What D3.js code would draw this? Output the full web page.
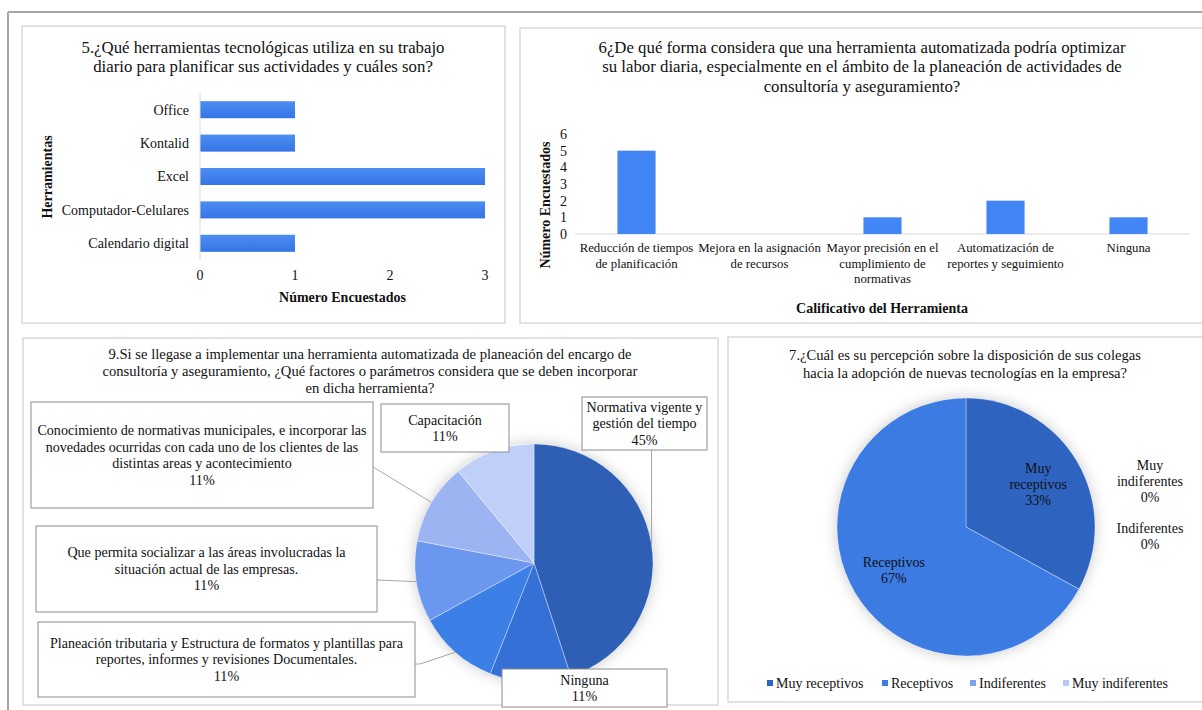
<!DOCTYPE html>
<html>
<head>
<meta charset="utf-8">
<script src="https://cdn.jsdelivr.net/npm/d3@7"></script>
<style>
  body { margin: 0; background: #fff; }
</style>
</head>
<body>
<svg id="chart" width="1202" height="710" font-family="'Liberation Serif', 'DejaVu Serif', serif"></svg>
<script>
// --- data ---
var herramientas = ["Office", "Kontalid", "Excel", "Computador-Celulares", "Calendario digital"];
var herramientasVal = [1, 1, 3, 3, 1];
var herramientasTicks = [0, 1, 2, 3];

var formas = [["Reducción de tiempos", "de planificación"], ["Mejora en la asignación", "de recursos"],
  ["Mayor precisión en el", "cumplimiento de", "normativas"], ["Automatización de", "reportes y seguimiento"], ["Ninguna"]];
var formasVal = [5, 0, 1, 2, 1];
var formasTicks = [0, 1, 2, 3, 4, 5, 6];

var factores = [["Normativa vigente y", "gestión del tiempo"], ["Ninguna"],
  ["Planeación tributaria y Estructura de formatos y plantillas para", "reportes, informes y revisiones Documentales."],
  ["Que permita socializar a las áreas involucradas la", "situación actual de las empresas."],
  ["Conocimiento de normativas municipales, e incorporar las", "novedades ocurridas con cada uno de los clientes de las", "distintas areas y acontecimiento"],
  ["Capacitación"]];
var factoresVal = [45, 11, 11, 11, 11, 11];

var percepcion = ["Muy receptivos", "Receptivos", "Indiferentes", "Muy indiferentes"];
var percepcionLabel = [["Muy", "receptivos"], ["Receptivos"], ["Indiferentes"], ["Muy", "indiferentes"]];
var percepcionVal = [33, 67, 0, 0];

var svg = d3.select("#chart");
var blue = "#4285f4";
var ink = "#111";

// shadow for pies
var defs = svg.append("defs");
var f = defs.append("filter").attr("id", "glow").attr("x", "-20%").attr("y", "-20%").attr("width", "140%").attr("height", "140%");
f.append("feDropShadow").attr("dx", 0).attr("dy", 0).attr("stdDeviation", 7)
  .attr("flood-color", "#000").attr("flood-opacity", 0.22);
var grad = defs.append("linearGradient").attr("id", "barg").attr("x1", 0).attr("y1", 0).attr("x2", 0).attr("y2", 1);
grad.append("stop").attr("offset", "0%").attr("stop-color", "#4d8ef2");
grad.append("stop").attr("offset", "100%").attr("stop-color", "#3474e6");

// outer frame
svg.append("line").attr("x1", 8).attr("x2", 1202).attr("y1", 12).attr("y2", 12).attr("stroke", "#a6a6a6").attr("stroke-width", 2);
svg.append("line").attr("x1", 8).attr("x2", 8).attr("y1", 12).attr("y2", 710).attr("stroke", "#a6a6a6").attr("stroke-width", 2);

function panel(x, y, w, h) {
  svg.append("rect").attr("x", x).attr("y", y).attr("width", w).attr("height", h)
    .attr("fill", "#fff").attr("stroke", "#d9d9d9").attr("stroke-width", 1.5);
}
function lines(g, arr, x, y0, lh, size, bold) {
  arr.forEach(function(t, i) {
    g.append("text").attr("x", x).attr("y", y0 + i * lh).attr("dy", "0.35em")
      .attr("text-anchor", "middle").attr("font-size", size).attr("fill", ink)
      .attr("font-weight", bold ? "bold" : null).text(t);
  });
}

panel(22, 26, 483, 297);
panel(520, 28, 690, 295);
panel(23, 338, 695, 367);
panel(728, 337, 480, 365);

// ---------- chart 5 (horizontal bars) ----------
var g1 = svg.append("g");
lines(g1, ["5.¿Qué herramientas tecnológicas utiliza en su trabajo", "diario para planificar sus actividades y cuáles son?"], 263, 47, 19, 16.8);

var x1 = d3.scaleLinear().domain([0, 3]).range([200, 485]);
var y1 = d3.scaleBand().domain(herramientas).range([93, 260]).paddingInner(0.49).paddingOuter(0.245);

g1.selectAll("rect.bar").data(herramientas).enter().append("rect")
  .attr("class", "bar")
  .attr("x", x1(0))
  .attr("y", function(d) { return y1(d); })
  .attr("width", function(d, i) { return x1(herramientasVal[i]) - x1(0); })
  .attr("height", y1.bandwidth())
  .attr("fill", "url(#barg)");

g1.append("line").attr("x1", x1(0)).attr("x2", x1(0)).attr("y1", 93).attr("y2", 260).attr("stroke", "#d9d9d9");

g1.selectAll("text.cat").data(herramientas).enter().append("text")
  .attr("class", "cat")
  .attr("x", 189)
  .attr("y", function(d) { return y1(d) + y1.bandwidth() / 2; })
  .attr("dy", "0.35em").attr("text-anchor", "end").attr("font-size", 14).attr("fill", ink)
  .text(function(d) { return d; });

g1.selectAll("text.tick").data(herramientasTicks).enter().append("text")
  .attr("class", "tick")
  .attr("x", function(d) { return x1(d); }).attr("y", 275)
  .attr("dy", "0.35em").attr("text-anchor", "middle").attr("font-size", 14).attr("fill", ink)
  .text(function(d) { return d; });

lines(g1, ["Número Encuestados"], (x1(0) + x1(3)) / 2, 297, 0, 14, true);
g1.append("text").attr("transform", "translate(47,177) rotate(-90)")
  .attr("dy", "0.35em").attr("text-anchor", "middle").attr("font-size", 14).attr("font-weight", "bold").attr("fill", ink)
  .text("Herramientas");

// ---------- chart 6 (columns) ----------
var g2 = svg.append("g");
lines(g2, ["6¿De qué forma considera que una herramienta automatizada podría optimizar",
  "su labor diaria, especialmente en el ámbito de la planeación de actividades de",
  "consultoría y aseguramiento?"], 862, 47, 19.5, 16.8);

var x2 = d3.scaleBand().domain(d3.range(formas.length)).range([575, 1190]).paddingInner(0.69).paddingOuter(0.345);
var y2 = d3.scaleLinear().domain([0, 6]).range([234, 134]);

g2.append("line").attr("x1", 575).attr("x2", 1190).attr("y1", y2(0)).attr("y2", y2(0)).attr("stroke", "#d9d9d9");

g2.selectAll("rect.bar").data(formasVal).enter().append("rect")
  .attr("class", "bar")
  .attr("x", function(d, i) { return x2(i); })
  .attr("y", function(d) { return y2(d); })
  .attr("width", x2.bandwidth())
  .attr("height", function(d) { return y2(0) - y2(d); })
  .attr("fill", blue);

g2.selectAll("text.tick").data(formasTicks).enter().append("text")
  .attr("class", "tick")
  .attr("x", 567).attr("y", function(d) { return y2(d); })
  .attr("dy", "0.35em").attr("text-anchor", "end").attr("font-size", 14).attr("fill", ink)
  .text(function(d) { return d; });

formas.forEach(function(lab, i) {
  lines(g2, lab, x2(i) + x2.bandwidth() / 2, 248, 15.5, 12.8);
});
lines(g2, ["Calificativo del Herramienta"], 882, 308, 0, 14, true);
g2.append("text").attr("transform", "translate(545,205) rotate(-90)")
  .attr("dy", "0.35em").attr("text-anchor", "middle").attr("font-size", 14).attr("font-weight", "bold").attr("fill", ink)
  .text("Número Encuestados");

// ---------- chart 9 (pie with callouts) ----------
var g3 = svg.append("g");
lines(g3, ["9.Si se llegase a implementar una herramienta automatizada de planeación del encargo de",
  "consultoría y  aseguramiento, ¿Qué factores o parámetros considera que se deben incorporar",
  "en dicha herramienta?"], 370, 354, 17, 14.6);

var c3 = [534, 563], r3 = 119;
var col3 = ["#2e5fb4", "#3470d6", "#3c7fe6", "#6c97ef", "#9cb5f2", "#c0cff7"];
var pie = d3.pie().sort(null).value(function(d) { return d; });
var arcs3 = pie(factoresVal);
var arc3 = d3.arc().innerRadius(0).outerRadius(r3);
var gp3 = g3.append("g").attr("transform", "translate(" + c3 + ")");
gp3.append("circle").attr("r", r3).attr("fill", "#fff").attr("filter", "url(#glow)");
gp3.selectAll("path").data(arcs3).enter().append("path")
  .attr("d", arc3)
  .attr("fill", function(d, i) { return col3[i]; })
  .attr("stroke", "#fff").attr("stroke-opacity", 0.5).attr("stroke-width", 0.7);

// callout box layout
var boxes3 = [
  {x: 582, y: 397, w: 125, h: 53, side: "bottom"},
  {x: 502, y: 669, w: 165, h: 38, side: null},
  {x: 38, y: 622, w: 377, h: 75, side: "right", ay: 664, elbow: 5},
  {x: 36, y: 526, w: 341, h: 86, side: "right", ay: 580},
  {x: 31, y: 402, w: 342, h: 106, side: "right", ay: 467},
  {x: 381, y: 404, w: 128, h: 48, side: null}
];
var outer3 = d3.arc().innerRadius(r3).outerRadius(r3);
boxes3.forEach(function(b, i) {
  var p = outer3.centroid(arcs3[i]);
  var px = p[0] + c3[0], py = p[1] + c3[1];
  var pts = null;
  if (b.side === "bottom") pts = [[px, b.y + b.h], [px, py]];
  if (b.side === "right") {
    pts = [[b.x + b.w, b.ay]];
    if (b.elbow) pts.push([b.x + b.w + b.elbow, b.ay]);
    pts.push([px, py]);
  }
  if (pts) g3.append("path").attr("d", d3.line()(pts)).attr("fill", "none").attr("stroke", "#a6a6a6").attr("stroke-width", 1);
});
boxes3.forEach(function(b, i) {
  g3.append("rect").attr("x", b.x).attr("y", b.y).attr("width", b.w).attr("height", b.h)
    .attr("fill", "#fff").attr("stroke", "#8c8c8c").attr("stroke-width", 1);
  var txt = factores[i].concat([factoresVal[i] + "%"]);
  var lh = 16.5;
  var y0 = b.y + b.h / 2 - (txt.length - 1) * lh / 2;
  lines(g3, txt, b.x + b.w / 2, y0, lh, 14.1);
});

// ---------- chart 7 (pie) ----------
var g4 = svg.append("g");
lines(g4, ["7.¿Cuál es su percepción sobre la disposición de sus colegas",
  "hacia la adopción de nuevas tecnologías en la empresa?"], 965, 355, 18, 14.6);

var c4 = [966, 527], r4 = 129;
var col4 = ["#2f63c0", "#3b7be2", "#7ea3ee", "#b8caf6"];
var arcs4 = pie(percepcionVal);
var arc4 = d3.arc().innerRadius(0).outerRadius(r4);
var gp4 = g4.append("g").attr("transform", "translate(" + c4 + ")");
gp4.append("circle").attr("r", r4).attr("fill", "#fff").attr("filter", "url(#glow)");
gp4.selectAll("path").data(arcs4.filter(function(d) { return d.value > 0; })).enter().append("path")
  .attr("d", arc4)
  .attr("fill", function(d) { return col4[d.index]; })
  .attr("stroke", "#fff").attr("stroke-opacity", 0.5).attr("stroke-width", 0.7);

var lab4 = d3.arc().innerRadius(r4 * 0.65).outerRadius(r4 * 0.65);
// zero slices are labelled beside the pie, last slice on top
var zeros = arcs4.filter(function(a) { return a.value === 0; }).reverse();
arcs4.forEach(function(a, i) {
  var txt = percepcionLabel[i].concat([a.value + "%"]);
  var cx, cy;
  if (a.value > 0) {
    var p = lab4.centroid(a);
    cx = c4[0] + p[0]; cy = c4[1] + p[1];
  } else {
    var k = zeros.indexOf(a);
    cx = c4[0] + r4 + 55;
    cy = (k === 0 ? 481 : 536);
  }
  lines(g4, txt, cx, cy - (txt.length - 1) * 16 / 2, 16, 14);
});

var legX = [767, 882, 970, 1063];
var leg = g4.selectAll("g.leg").data(percepcion).enter().append("g")
  .attr("class", "leg")
  .attr("transform", function(d, i) { return "translate(" + legX[i] + ",683)"; });
leg.append("rect").attr("x", 0).attr("y", -3).attr("width", 6).attr("height", 6)
  .attr("fill", function(d, i) { return col4[i]; });
leg.append("text").attr("x", 9).attr("dy", "0.35em").attr("font-size", 14).attr("fill", ink).text(function(d) { return d; });
</script>
</body>
</html>
